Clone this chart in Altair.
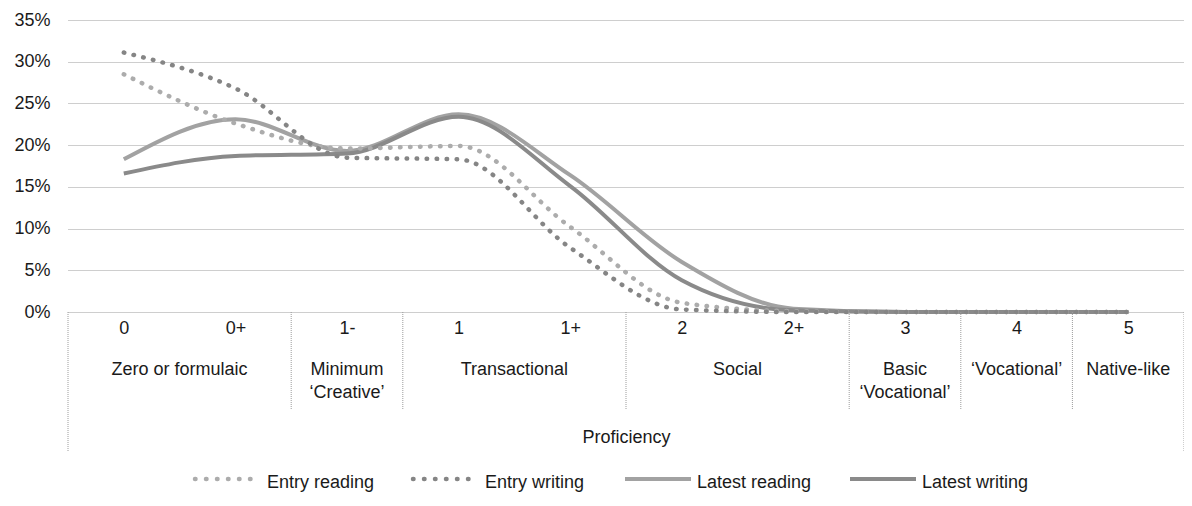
import json
import altair as alt
import pandas as pd

# ---------------- data ----------------
levels = ["0", "0+", "1-", "1", "1+", "2", "2+", "3", "4", "5"]
entry_reading = [28.5, 22.6, 19.6, 19.9, 10.2, 1.1, 0.1, 0.0, 0.0, 0.0]
entry_writing = [31.1, 26.8, 18.5, 18.3, 7.7, 0.3, 0.0, 0.0, 0.0, 0.0]
latest_reading = [18.3, 23.1, 19.3, 23.7, 16.4, 6.0, 0.4, 0.0, 0.0, 0.0]
latest_writing = [16.6, 18.7, 19.0, 23.4, 15.1, 3.8, 0.2, 0.0, 0.0, 0.0]
series_names = ["Entry reading", "Entry writing", "Latest reading", "Latest writing"]
group_labels = ["Zero or formulaic", "Minimum\n\u2018Creative\u2019", "Transactional", "Social",
                "Basic\n\u2018Vocational\u2019", "\u2018Vocational\u2019", "Native-like"]
group_first = [0, 2, 3, 5, 7, 8, 9]
group_last = [1, 2, 4, 6, 7, 8, 9]
y_ticks = [0, 5, 10, 15, 20, 25, 30, 35]
x_title = "Proficiency"

# ---------------- styling / layout ----------------
FONT = "Liberation Sans, Arial, sans-serif"
TXT = "#1a1a1a"
series_colors = ["#acacac", "#858585", "#a2a2a2", "#8a8a8a"]
W, H = 1116, 292
PLOT_LEFT = 68          # page x of plot's left edge
PLOT_TOP = 20           # page y of plot's top edge
legend_sym_start = [195, 413, 625, 850]   # page x
legend_sym_len = 66
legend_text_gap = 6
legend_y_text = 483
legend_y_sym = 479

series_values = [entry_reading, entry_writing, latest_reading, latest_writing]
rows = []
for name, vals in zip(series_names, series_values):
    for i, v in enumerate(vals):
        rows.append({"series": name, "idx": i, "value": v})
df = pd.DataFrame(rows)

x_scale = alt.Scale(domain=[-0.5, len(levels) - 0.5], nice=False, zero=False)
y_scale = alt.Scale(domain=[0, 35], nice=False, zero=True)
color_scale = alt.Scale(domain=series_names, range=series_colors)

x_axis = alt.Axis(values=list(range(len(levels))), labelExpr=json.dumps(levels) + "[datum.value]",
                  title=x_title, grid=False, ticks=False, tickSize=0, domain=False, labelAngle=0,
                  labelFont=FONT, labelFontSize=18, labelColor=TXT, labelPadding=7,
                  titleFont=FONT, titleFontSize=18, titleFontWeight="normal", titleColor=TXT,
                  titlePadding=91)
x_enc = alt.X("idx:Q", scale=x_scale, axis=x_axis)
y_enc = alt.Y(
    "value:Q", scale=y_scale,
    axis=alt.Axis(values=y_ticks, labelExpr="datum.value + '%'", title=None,
                  grid=True, gridColor="#9c9c9c", gridDash=[1, 1], gridWidth=1,
                  domain=False, ticks=False, labelFont=FONT, labelFontSize=18,
                  labelColor=TXT, labelPadding=18),
)
color_enc = alt.Color("series:N", scale=color_scale, legend=None)

latest = alt.Chart(df).transform_filter(
    alt.FieldOneOfPredicate(field="series", oneOf=series_names[2:])
).mark_line(interpolate="monotone", strokeWidth=4).encode(x=x_enc, y=y_enc, color=color_enc)

entry = alt.Chart(df).transform_filter(
    alt.FieldOneOfPredicate(field="series", oneOf=series_names[:2])
).mark_line(interpolate="monotone", strokeWidth=4.5, strokeDash=[0.5, 9.5], strokeCap="round").encode(
    x=x_enc, y=y_enc, color=color_enc)

# group boxes
inner_bounds = [g + 0.5 for g in group_last[:-1]]
outer_bounds = [group_first[0] - 0.5, group_last[-1] + 0.5]
div_inner = alt.Chart(pd.DataFrame({"idx": inner_bounds})).mark_rule(
    color="#9c9c9c", strokeDash=[1, 1], strokeWidth=1).encode(
    x=x_enc, y=alt.value(H), y2=alt.value(410 - PLOT_TOP))
div_outer = alt.Chart(pd.DataFrame({"idx": outer_bounds})).mark_rule(
    color="#9c9c9c", strokeDash=[1, 1], strokeWidth=1).encode(
    x=x_enc, y=alt.value(H), y2=alt.value(452 - PLOT_TOP))

gdf = pd.DataFrame({"label": group_labels,
                    "idx": [(a + b) / 2 for a, b in zip(group_first, group_last)]})
group_text = alt.Chart(gdf).mark_text(
    font=FONT, fontSize=18, color=TXT, align="center", baseline="alphabetic",
    lineBreak="\n", lineHeight=23).encode(
    x=x_enc, y=alt.value(375 - PLOT_TOP), text="label:N")

# manual legend
legend_layers = []
for i, name in enumerate(series_names):
    one = pd.DataFrame({"label": [name]})
    x0 = legend_sym_start[i] - PLOT_LEFT
    x1 = x0 + legend_sym_len
    if i < 2:
        sym = alt.Chart(one).mark_rule(color=series_colors[i], strokeWidth=4.5,
                                       strokeDash=[0.5, 10.5], strokeCap="round")
    else:
        sym = alt.Chart(one).mark_rule(color=series_colors[i], strokeWidth=4)
    sym = sym.encode(x=alt.value(x0), x2=alt.value(x1), y=alt.value(legend_y_sym - PLOT_TOP))
    txt = alt.Chart(one).mark_text(font=FONT, fontSize=18, color=TXT, align="left",
                                   baseline="middle").encode(
        x=alt.value(x1 + legend_text_gap), y=alt.value(legend_y_text - PLOT_TOP), text="label:N")
    legend_layers += [sym, txt]

chart = alt.layer(latest, entry, div_inner, div_outer, group_text, *legend_layers).properties(
    width=W, height=H,
    padding={"left": PLOT_LEFT - 8, "top": PLOT_TOP - 8, "right": 0, "bottom": 184},
    autosize=alt.AutoSizeParams(type="none"),
    background="white",
).configure_view(stroke=None)

chart.save("out.html", embed_options={"renderer": "svg", "actions": False})
